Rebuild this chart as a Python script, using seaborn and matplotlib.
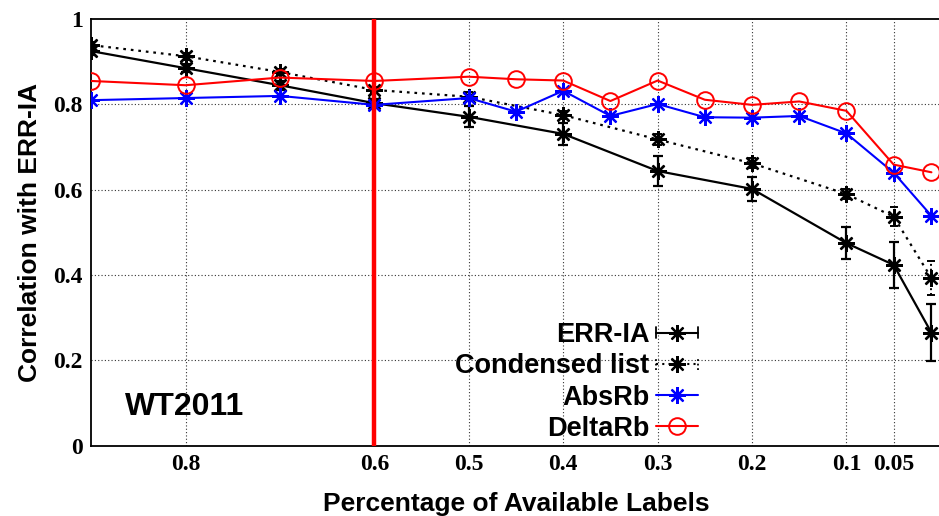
import numpy as np
import pandas as pd
import matplotlib
matplotlib.use("Agg")
import matplotlib.pyplot as plt
import seaborn as sns
from matplotlib.lines import Line2D
from matplotlib.legend_handler import HandlerLine2D

# ---- data ----
x_err = [0.9, 0.8, 0.7, 0.6, 0.5, 0.4, 0.3, 0.2, 0.1, 0.05, 0.01]
err_ia = [0.925, 0.885, 0.845, 0.803, 0.771, 0.731, 0.644, 0.602, 0.475, 0.424, 0.265]
err_ia_sd = [0.010, 0.010, 0.010, 0.010, 0.025, 0.025, 0.036, 0.028, 0.037, 0.053, 0.067]
condensed = [0.939, 0.913, 0.876, 0.834, 0.818, 0.775, 0.718, 0.662, 0.590, 0.537, 0.393]
condensed_sd = [0.008, 0.008, 0.008, 0.008, 0.010, 0.010, 0.012, 0.012, 0.012, 0.023, 0.040]

x_rb = [0.9, 0.8, 0.7, 0.6, 0.5, 0.45, 0.4, 0.35, 0.3, 0.25, 0.2, 0.15, 0.1, 0.05, 0.01]
absrb = [0.810, 0.815, 0.820, 0.799, 0.815, 0.783, 0.832, 0.773, 0.801, 0.770, 0.769, 0.773, 0.732, 0.640, 0.539]
deltarb = [0.855, 0.845, 0.863, 0.855, 0.865, 0.859, 0.856, 0.808, 0.856, 0.811, 0.799, 0.807, 0.785, 0.659, 0.641]

xticks = [0.8, 0.6, 0.5, 0.4, 0.3, 0.2, 0.1, 0.05]
xticklabels = ["0.8", "0.6", "0.5", "0.4", "0.3", "0.2", "0.1", "0.05"]
yticks = [0, 0.2, 0.4, 0.6, 0.8, 1.0]
yticklabels = ["0", "0.2", "0.4", "0.6", "0.8", "1"]
threshold = 0.6

df_err = pd.DataFrame({"x": x_err, "ERR-IA": err_ia, "Condensed list": condensed})
df_rb = pd.DataFrame({"x": x_rb, "AbsRb": absrb, "DeltaRb": deltarb})

sns.set_theme(style="white")
plt.rcParams["font.family"] = ["Liberation Sans", "DejaVu Sans"]
plt.rcParams["text.color"] = "black"
plt.rcParams["axes.labelcolor"] = "black"

fig = plt.figure(figsize=(9.39, 5.16), dpi=100)
ax = fig.add_axes([0.097, 0.136, 0.905, 0.827])

star = (8, 2, 0)
BLUE = "#0000ff"
RED = "#ff0000"

# grid
for yv in yticks[1:-1]:
    ax.axhline(yv, color="#333333", lw=0.8, ls=(0, (1, 2)), zorder=0)
for xv in xticks:
    ax.axvline(xv, color="#333333", lw=0.8, ls=(0, (1, 2)), zorder=0)

# error bars
ax.errorbar(x_err, err_ia, yerr=err_ia_sd, fmt="none", ecolor="black",
            elinewidth=1.6, capsize=3.5, capthick=1.6, zorder=3)
eb = ax.errorbar(x_err, condensed, yerr=condensed_sd, fmt="none", ecolor="black",
                 elinewidth=1.4, capsize=3, capthick=1.4, zorder=3)
for c in eb.lines[2]:
    c.set_linestyle((0, (1, 1.5)))

sns.lineplot(data=df_err, x="x", y="ERR-IA", ax=ax, color="black", lw=1.6,
             marker=star, markersize=12, markeredgewidth=1.7, markeredgecolor="black", zorder=4)
sns.lineplot(data=df_err, x="x", y="Condensed list", ax=ax, color="black", lw=1.6,
             linestyle=(0, (1.2, 2.2)), marker=star, markersize=12, markeredgewidth=1.7,
             markeredgecolor="black", zorder=4)
sns.lineplot(data=df_rb, x="x", y="AbsRb", ax=ax, color=BLUE, lw=1.5,
             marker=star, markersize=12, markeredgewidth=1.6, markeredgecolor=BLUE, zorder=5)
sns.lineplot(data=df_rb, x="x", y="DeltaRb", ax=ax, color=RED, lw=1.5,
             marker="o", markersize=12, markerfacecolor="none", markeredgewidth=1.4,
             markeredgecolor=RED, zorder=5)

ax.axvline(threshold, color=RED, lw=3.2, zorder=6)

ax.set_xlim(0.9, 0.0)
ax.set_ylim(0, 1)
ax.set_xticks(xticks)
ax.set_xticklabels(xticklabels)
ax.set_yticks(yticks)
ax.set_yticklabels(yticklabels)
for lab in ax.get_xticklabels() + ax.get_yticklabels():
    lab.set_fontfamily("Liberation Serif")
    lab.set_fontweight("bold")
    lab.set_fontsize(17)
    lab.set_color("black")
ax.tick_params(axis="both", length=0, pad=6, colors="black")

for s in ["left", "bottom", "top"]:
    ax.spines[s].set_color("black")
    ax.spines[s].set_linewidth(1.3)
ax.spines["right"].set_visible(False)

ax.set_xlabel("Percentage of Available Labels", fontsize=19, fontweight="bold", labelpad=12)
ax.set_ylabel("Correlation with ERR-IA", fontsize=19, fontweight="bold", labelpad=8)

ax.text(0.864, 0.073, "WT2011", fontsize=23, fontweight="bold", ha="left", va="baseline")


class CapHandler(HandlerLine2D):
    def __init__(self, dotted=False, **kw):
        super().__init__(**kw)
        self.dotted = dotted

    def create_artists(self, legend, orig_handle, xdescent, ydescent, width, height, fontsize, trans):
        arts = super().create_artists(legend, orig_handle, xdescent, ydescent, width, height, fontsize, trans)
        y = (height - ydescent) / 2
        h = 4
        for xx in (-xdescent, -xdescent + width):
            ln = Line2D([xx, xx], [y - h, y + h], color="black", lw=1.3,
                        ls=(0, (1, 1.5)) if self.dotted else "-")
            ln.set_transform(trans)
            arts.append(ln)
        return arts


h1 = Line2D([], [], color="black", lw=1.5, marker=star, ms=12, mew=1.6)
h2 = Line2D([], [], color="black", lw=1.5, ls=(0, (1, 2)), marker=star, ms=12, mew=1.6)
h3 = Line2D([], [], color=BLUE, lw=1.5, marker=star, ms=12, mew=1.6)
h4 = Line2D([], [], color=RED, lw=1.5, marker="o", ms=12, mfc="none", mew=1.4)
leg = ax.legend([h1, h2, h3, h4], ["ERR-IA", "Condensed list", "AbsRb", "DeltaRb"],
                loc="center right", bbox_to_anchor=(698 / 939, 1 - 382 / 516),
                bbox_transform=fig.transFigure, markerfirst=False, frameon=False,
                prop={"size": 19.5, "weight": "bold"}, handlelength=1.55, handletextpad=0.25,
                labelspacing=0.19, borderpad=0, borderaxespad=0,
                handler_map={h1: CapHandler(), h2: CapHandler(dotted=True)})
for t in leg.get_texts():
    t.set_ha("right")
    t.set_color("black")
leg.set_zorder(10)

fig.savefig("out.png", dpi=100)
